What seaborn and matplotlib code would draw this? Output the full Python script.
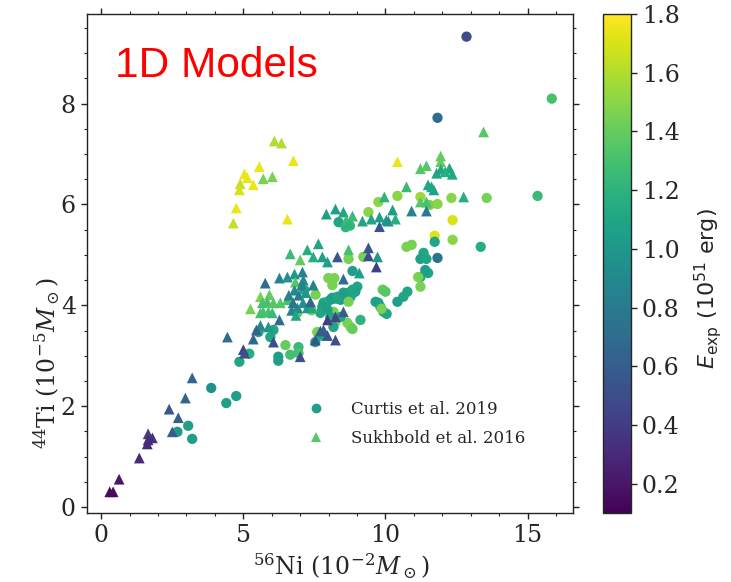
import numpy as np
import pandas as pd
import matplotlib
matplotlib.use("Agg")
import matplotlib.pyplot as plt
import seaborn as sns
from matplotlib.lines import Line2D
from matplotlib.ticker import MultipleLocator

# ---- data: Curtis et al. 2019 (circles): Ni56, Ti44, E_exp ----
curtis_ni = [12.85, 15.85, 11.83, 13.56, 15.35, 12.32, 10.42, 9.75, 11.23, 11.55, 11.83, 9.40,
             12.36, 8.35, 8.60, 8.75, 11.73, 11.73, 12.36, 13.35, 10.74, 10.92, 11.34, 11.23,
             11.44, 11.83, 9.22, 8.70, 8.84, 8.20, 8.13, 7.99, 11.23, 11.50, 11.40, 11.15,
             11.23, 10.77, 10.63, 10.42, 9.90, 10.00, 9.65, 9.75, 9.82, 9.93, 10.04, 9.86,
             9.01, 8.94, 8.84, 8.70, 8.77, 8.66, 8.52, 8.42, 8.31, 8.17, 8.06, 7.96, 7.82,
             7.78, 8.13, 8.31, 8.52, 8.87, 8.70, 9.12, 8.66, 8.77, 8.84, 8.17, 8.06, 8.24,
             8.42, 8.17, 7.71, 7.96, 7.54, 7.60, 7.53, 7.75, 6.48, 6.65, 6.94, 6.94, 6.23,
             6.23, 5.95, 6.06, 5.53, 5.21, 4.86, 4.40, 4.75, 3.87, 3.06, 3.20, 2.68, 7.15,
             7.40, 6.90]
curtis_ti = [9.33, 8.10, 7.72, 6.13, 6.17, 6.13, 6.17, 6.05, 6.15, 5.99, 6.01, 5.85,
             5.69, 5.65, 5.55, 5.58, 5.38, 5.26, 5.30, 5.16, 5.16, 5.20, 5.04, 4.92,
             4.92, 4.94, 4.96, 4.92, 4.68, 4.54, 4.40, 4.54, 4.56, 4.64, 4.70, 4.56,
             4.37, 4.27, 4.17, 4.07, 4.31, 4.27, 4.07, 4.05, 3.97, 3.87, 3.83, 3.93,
             4.37, 4.27, 4.31, 4.25, 4.17, 4.11, 4.15, 4.11, 4.13, 4.13, 4.11, 4.07, 4.05,
             3.97, 4.15, 4.17, 4.25, 4.25, 4.07, 3.71, 3.65, 3.57, 3.53, 3.87, 3.77, 3.67,
             3.77, 3.57, 3.85, 3.91, 4.21, 3.47, 3.27, 3.40, 3.21, 3.02, 3.17, 3.05, 2.98,
             2.90, 3.37, 3.51, 3.47, 3.04, 2.88, 2.06, 2.20, 2.36, 1.61, 1.35, 1.49, 4.30,
             3.90, 3.85]
curtis_e = [0.50, 1.30, 0.70, 1.45, 1.25, 1.50, 1.50, 1.50, 1.55, 1.45, 1.50, 1.50,
            1.70, 1.10, 1.20, 1.25, 1.72, 1.10, 1.50, 1.15, 1.45, 1.45, 1.10, 1.05,
            1.10, 0.75, 1.45, 1.45, 1.05, 1.45, 1.45, 1.45, 1.15, 1.10, 1.05, 1.45,
            1.45, 1.10, 1.10, 1.05, 1.40, 1.35, 1.10, 1.05, 1.10, 1.15, 1.10, 1.45,
            1.10, 1.05, 1.10, 1.10, 1.05, 1.10, 1.05, 1.00, 1.10, 1.05, 1.10, 1.05, 1.10,
            1.05, 1.05, 1.10, 1.05, 1.10, 1.45, 1.20, 1.45, 1.45, 1.40, 1.45, 1.10, 1.45,
            1.10, 1.10, 1.10, 1.05, 1.45, 1.45, 1.10, 1.10, 1.40, 1.30, 1.25, 1.30, 1.05,
            1.05, 1.10, 1.10, 1.10, 1.15, 1.10, 1.05, 1.05, 0.95, 1.05, 1.05, 1.00, 1.10,
            1.45, 1.40]

# ---- data: Sukhbold et al. 2016 (triangles) ----
sukh_ni = [6.09, 6.34, 6.76, 5.56, 5.04, 5.14, 6.02, 5.70, 5.35, 4.89, 4.86, 4.75, 4.65, 6.55,
           13.45, 10.42, 11.94, 11.94, 11.23, 11.44, 11.80, 11.95, 12.25, 12.35, 12.10, 11.50,
           11.70, 11.62, 10.74, 12.75, 9.96, 11.23, 11.44, 10.25, 10.92, 11.44, 7.92, 8.24,
           8.52, 8.62, 8.72, 8.84, 9.19, 9.50, 9.79, 10.03, 10.10, 10.35, 9.79, 8.70, 9.40,
           9.40, 9.72, 8.31, 9.68, 7.64, 7.25, 6.65, 7.46, 7.78, 7.00, 7.96, 9.08, 8.52,
           5.77, 6.27, 6.55, 6.80, 7.08, 6.83, 7.11, 7.46, 5.92, 5.60, 5.67, 5.84, 6.06, 6.30,
           6.55, 5.25, 5.60, 5.70, 5.88, 6.02, 6.60, 6.80, 6.95, 7.10, 7.25, 7.40, 6.70, 6.90,
           7.05, 6.75, 7.20, 6.85, 6.27, 5.60, 5.46, 5.88, 4.44, 5.35, 6.06, 5.00, 5.04, 7.00,
           7.36, 7.96, 8.24, 8.52, 7.82, 7.96, 8.24, 7.53, 7.71,
           0.30, 0.42, 0.63, 1.34, 1.62, 1.65, 1.80, 1.65, 2.39, 2.71, 2.50, 2.96, 3.20]
sukh_ti = [7.26, 7.22, 6.87, 6.75, 6.61, 6.53, 6.55, 6.51, 6.39, 6.41, 6.29, 5.93, 5.63, 5.71,
           7.44, 6.85, 6.96, 6.85, 6.71, 6.77, 6.62, 6.70, 6.72, 6.60, 6.65, 6.39,
           6.29, 6.35, 6.35, 6.15, 6.15, 6.05, 6.05, 5.89, 5.87, 5.87, 5.81, 5.91,
           5.85, 5.69, 5.62, 5.77, 5.67, 5.71, 5.75, 5.69, 5.67, 5.71, 5.56, 5.10, 5.14,
           4.98, 4.96, 4.96, 4.76, 5.22, 5.10, 5.02, 4.96, 4.96, 4.90, 4.86, 4.64, 4.52,
           4.44, 4.54, 4.56, 4.62, 4.66, 4.46, 4.50, 4.40, 4.21, 4.17, 4.05, 4.07, 4.05, 4.05,
           4.11, 3.93, 3.85, 3.87, 3.87, 3.85, 4.20, 4.30, 4.20, 4.05, 3.95, 3.95, 3.90, 3.95,
           4.40, 4.05, 4.25, 3.80, 3.71, 3.60, 3.51, 3.57, 3.37, 3.33, 3.27, 3.12, 3.05, 2.98,
           4.07, 3.71, 3.77, 3.87, 3.51, 3.40, 3.31, 3.31, 3.49,
           0.30, 0.30, 0.55, 0.97, 1.25, 1.45, 1.37, 1.33, 1.94, 1.77, 1.49, 2.16, 2.56]
sukh_e = [1.60, 1.60, 1.75, 1.75, 1.75, 1.75, 1.45, 1.45, 1.75, 1.65, 1.70, 1.75, 1.65, 1.75,
          1.35, 1.75, 1.40, 1.40, 1.35, 1.35, 1.10, 1.10, 1.10, 1.10, 1.15, 1.10,
          1.05, 1.10, 1.25, 1.15, 1.20, 1.35, 1.30, 1.05, 0.85, 0.80, 1.05, 1.05,
          1.10, 1.25, 1.20, 1.25, 1.10, 1.10, 1.05, 1.00, 0.95, 1.15, 0.55, 1.30, 0.55,
          0.50, 1.00, 0.55, 0.40, 1.10, 1.15, 1.25, 1.15, 1.05, 1.40, 1.05, 1.05, 0.70,
          0.70, 0.85, 0.95, 1.00, 0.85, 1.35, 0.90, 0.85, 1.40, 1.45, 1.30, 1.30, 1.35, 1.35,
          1.30, 1.45, 1.30, 1.30, 1.30, 1.25, 0.85, 0.90, 0.80, 0.95, 1.00, 1.10, 0.85, 0.90,
          0.85, 0.75, 1.00, 1.10, 0.70, 0.90, 0.65, 1.00, 0.70, 0.65, 0.50, 0.45, 0.50, 0.50,
          0.65, 0.40, 0.45, 0.60, 0.60, 0.55, 0.50, 0.55, 0.60,
          0.15, 0.15, 0.20, 0.30, 0.30, 0.40, 0.35, 0.30, 0.55, 0.60, 0.60, 0.65, 0.65]

x_ticks = [0, 5, 10, 15]
y_ticks = [0, 2, 4, 6, 8]
cbar_ticks = [0.2, 0.4, 0.6, 0.8, 1.0, 1.2, 1.4, 1.6, 1.8]
e_min, e_max = 0.1, 1.8

sns.set_style("ticks")
plt.rcParams['font.family'] = ['DejaVu Serif']
plt.rcParams['mathtext.fontset'] = 'dejavuserif'

df_c = pd.DataFrame({"ni": curtis_ni, "ti": curtis_ti, "E": curtis_e})
df_s = pd.DataFrame({"ni": sukh_ni, "ti": sukh_ti, "E": sukh_e})

fig = plt.figure(figsize=(7.31, 5.82), dpi=100)
ax = fig.add_axes([0.119, 0.1186, 0.665, 0.8574])
cax = fig.add_axes([0.825, 0.1186, 0.038, 0.8574])

cmap = plt.get_cmap("viridis")
norm = matplotlib.colors.Normalize(vmin=e_min, vmax=e_max)

sns.scatterplot(data=df_c, x="ni", y="ti", hue="E", palette="viridis", hue_norm=(e_min, e_max),
                marker="o", s=55, linewidth=0, legend=False, ax=ax)
sns.scatterplot(data=df_s, x="ni", y="ti", hue="E", palette="viridis", hue_norm=(e_min, e_max),
                marker="^", s=60, linewidth=0, legend=False, ax=ax)

ax.set_xlim(-0.5, 16.6)
ax.set_ylim(-0.12, 9.78)
ax.set_xticks(x_ticks)
ax.set_yticks(y_ticks)
ax.xaxis.set_minor_locator(MultipleLocator(1))
ax.yaxis.set_minor_locator(MultipleLocator(0.5))
ax.tick_params(which="both", direction="out", top=True, right=True, labelsize=17, color="#222222")
ax.tick_params(which="major", length=4.5, width=1)
ax.tick_params(which="minor", length=2.5, width=0.8)
for sp in ax.spines.values():
    sp.set_color("#222222")
    sp.set_linewidth(1.0)

ax.set_xlabel(r"$^{56}$Ni (10$^{-2}M_\odot$)", fontsize=17)
ax.set_ylabel(r"$^{44}$Ti (10$^{-5}M_\odot$)", fontsize=17)
ax.xaxis.set_label_coords(0.523, -0.078)
ax.yaxis.set_label_coords(-0.052, 0.30)

ax.text(0.5, 8.53, "1D Models", color="red", fontsize=30.5, family="Liberation Sans",
        ha="left", va="baseline")

handles = [
    Line2D([], [], marker="o", linestyle="", markersize=7, markeredgewidth=0, color=cmap(norm(1.05))),
    Line2D([], [], marker="^", linestyle="", markersize=7.5, markeredgewidth=0, color=cmap(norm(1.35))),
]
ax.legend(handles, ["Curtis et al. 2019", "Sukhbold et al. 2016"], loc="upper left",
          bbox_to_anchor=(0.405, 0.255), frameon=False, fontsize=12, handletextpad=1.1,
          labelspacing=0.75)

sm = matplotlib.cm.ScalarMappable(norm=norm, cmap=cmap)
cb = fig.colorbar(sm, cax=cax)
cb.set_ticks(cbar_ticks)
cb.ax.tick_params(labelsize=17, direction="out", length=4.5, width=1)
cb.outline.set_linewidth(1.0)
cb.set_label(r"$E_{\rm exp}$ (10$^{51}$ erg)", fontsize=16, family="DejaVu Sans",
             math_fontfamily="dejavusans")
cb.ax.yaxis.set_label_coords(3.2, 0.45)

fig.savefig("out.png", dpi=100)
